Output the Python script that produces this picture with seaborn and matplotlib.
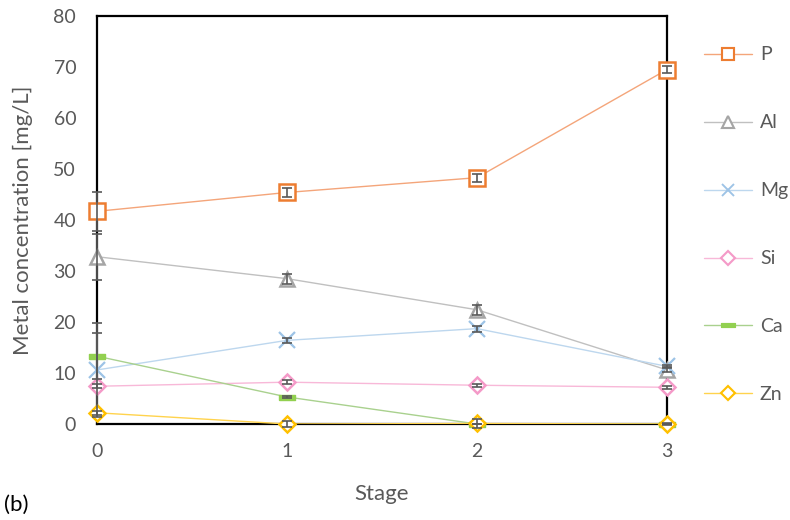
import matplotlib
matplotlib.use("Agg")
import matplotlib.pyplot as plt
import seaborn as sns
import numpy as np
import pandas as pd
from matplotlib.lines import Line2D

# Metal concentrations per treatment stage (mg/L) with standard deviations
stages = [0, 1, 2, 3]
metals = ["P", "Al", "Mg", "Si", "Ca", "Zn"]

P_vals = [41.7, 45.4, 48.3, 69.5]
Al_vals = [32.8, 28.5, 22.4, 10.6]
Mg_vals = [10.6, 16.4, 18.7, 11.3]
Si_vals = [7.4, 8.2, 7.6, 7.2]
Ca_vals = [13.3, 5.3, 0.0, 0.0]
Zn_vals = [2.2, 0.0, 0.1, 0.0]

P_err = [3.8, 0.9, 0.8, 0.6]
Al_err = [4.5, 1.0, 1.0, 0.5]
Mg_err = [9.2, 0.5, 0.6, 0.3]
Si_err = [0.4, 0.4, 0.3, 0.3]
Ca_err = [4.5, 0.2, 0.0, 0.0]
Zn_err = [0.4, 0.5, 0.8, 0.2]

values = [P_vals, Al_vals, Mg_vals, Si_vals, Ca_vals, Zn_vals]
errors = [P_err, Al_err, Mg_err, Si_err, Ca_err, Zn_err]

colors = ["#ED7D31", "#A5A5A5", "#9DC3E6", "#F49AC8", "#92D050", "#FFC000"]
line_colors = ["#F4A57A", "#C0C0C0", "#BDD7EE", "#F8B8D8", "#A9D18E", "#FFD34D"]
markers = ["s", "^", "x", "D", "_", "D"]
msizes = [11, 10, 11, 8, 11, 8]

df = pd.DataFrame({
    "Stage": np.tile(stages, len(metals)),
    "Metal": np.repeat(metals, len(stages)),
    "Conc": np.concatenate(values),
})

sns.set_style("white")
plt.rcParams["font.family"] = ["Lato", "DejaVu Sans"]

fig = plt.figure(figsize=(7.9, 5.2), dpi=100)
ax = fig.add_axes([97 / 790, 96 / 520, 570 / 790, 408 / 520])

text_color = "#595959"
ca_marker = [(-1, -0.3), (1, -0.3), (1, 0.3), (-1, 0.3), (-1, -0.3)]
handles = []
for i, m in enumerate(metals):
    sub = df[df["Metal"] == m]
    sns.lineplot(data=sub, x="Stage", y="Conc", ax=ax, color=line_colors[i],
                 linewidth=1.0, marker=None, zorder=3, legend=False)
    if m == "Ca":
        mk = dict(marker=ca_marker, markersize=12, markerfacecolor=colors[i],
                  markeredgecolor=colors[i], markeredgewidth=1.0)
    elif m == "Mg":
        mk = dict(marker="x", markersize=msizes[i], markeredgecolor=colors[i],
                  markeredgewidth=1.6)
    else:
        mk = dict(marker=markers[i], markersize=msizes[i], markerfacecolor="white",
                  markeredgecolor=colors[i], markeredgewidth=1.8)
    ax.plot(sub["Stage"], sub["Conc"], linestyle="none", zorder=5,
            clip_on=False, **mk)
    ax.errorbar(stages, values[i], yerr=errors[i], fmt="none", ecolor="#595959",
                elinewidth=1.2, capsize=3.5, capthick=1.2, zorder=6, clip_on=False)
    hk = dict(mk)
    hk["markersize"] = mk["markersize"] * 0.85
    hk["markeredgewidth"] = mk["markeredgewidth"] * 0.85
    handles.append(Line2D([], [], color=line_colors[i], linewidth=1.0, **hk))

ax.set_xlim(0, 3)
ax.set_ylim(0, 80)
ax.set_xticks(stages)
ax.set_yticks(np.arange(0, 81, 10))
ax.tick_params(axis="both", length=0, labelsize=14, labelcolor=text_color)
ax.tick_params(axis="y", pad=15)
ax.tick_params(axis="x", pad=14)
for s in ax.spines.values():
    s.set_color("black")
    s.set_linewidth(1.6)

ax.set_xlabel("Stage", fontsize=16, color=text_color, labelpad=17)
ax.set_ylabel("Metal concentration [mg/L]", fontsize=16, color=text_color, labelpad=15)

fig.legend(handles, metals, loc="upper left", bbox_to_anchor=(686 / 790, 1 - 29 / 520),
           frameon=False, fontsize=14, labelcolor=text_color, handlelength=2.5,
           handletextpad=0.4, labelspacing=2.62)

fig.text(4 / 790, 1 - 505 / 520, "(b)", fontsize=16, color="black", va="center")

fig.savefig("out.png", dpi=100)
